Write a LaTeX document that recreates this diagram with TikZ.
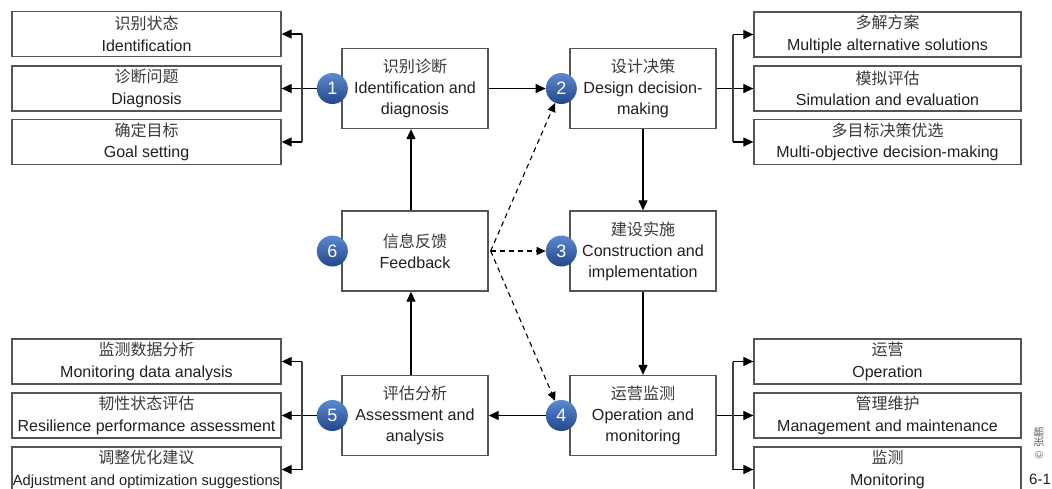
\documentclass[tikz,border=0pt]{standalone}
\usepackage{fontspec}
\setmainfont{Liberation Sans}
\newfontfamily\cjk{Noto Sans CJK SC}
\usetikzlibrary{arrows.meta}
\definecolor{txt}{HTML}{231F20}
\definecolor{cjktxt}{HTML}{3A3A3A}
\definecolor{bord}{HTML}{555555}
\definecolor{ctop}{HTML}{5B8AD0}
\definecolor{cbot}{HTML}{23468A}
\newcommand{\zh}[1]{{\cjk\color{cjktxt}#1}}
\begin{document}
\begin{tikzpicture}[x=1pt,y=-1pt,
  sidebox/.style={draw=bord,line width=1.3pt,minimum width=269pt,minimum height=45pt,inner sep=0pt,align=center,font=\fontsize{16}{21.5}\selectfont,text=txt},
  rsidebox/.style={sidebox,minimum width=267pt},
  mainbox/.style={draw=bord,line width=1.3pt,minimum width=146pt,minimum height=80pt,inner sep=0pt,align=center,font=\fontsize{16.1}{21}\selectfont,text=txt},
  num/.style={circle,minimum size=31pt,inner sep=0pt,top color=ctop,bottom color=cbot,draw=none,text=white,font=\fontsize{18}{18}\selectfont},
  arr/.style={-{Triangle[length=10pt,width=9pt]},line width=1.2pt,draw=black},
  brk/.style={line width=1.2pt,draw=black!75},
  darr/.style={-{Triangle[length=9pt,width=8pt]},line width=1.1pt,dash pattern=on 5pt off 4pt,draw=black}
]
\useasboundingbox (0,0) rectangle (1052,488);
\fill[white] (0,0) rectangle (1052,488);

% left side boxes
\node[sidebox] (A1) at (146.5,34) {\zh{识别状态}\\Identification};
\node[sidebox] (A2) at (146.5,88.5) {\zh{诊断问题}\\Diagnosis};
\node[sidebox] (A3) at (146.5,142) {\zh{确定目标}\\Goal setting};
\node[sidebox] (B1) at (146.5,361.5) {\zh{监测数据分析}\\Monitoring data analysis};
\node[sidebox] (B2) at (146.5,415.5) {\zh{韧性状态评估}\\Resilience performance assessment};
\node[sidebox] (B3) at (146.5,469.5) {\zh{调整优化建议}\\{\fontsize{14.7}{21.5}\selectfont Adjustment and optimization suggestions}};

% right side boxes
\node[rsidebox] (C1) at (887.5,34.5) {\zh{多解方案}\\Multiple alternative solutions};
\node[rsidebox] (C2) at (887.5,88.5) {\zh{模拟评估}\\Simulation and evaluation};
\node[rsidebox] (C3) at (887.5,142) {\zh{多目标决策优选}\\Multi-objective decision-making};
\node[rsidebox] (D1) at (887.5,361.5) {\zh{运营}\\Operation};
\node[rsidebox] (D2) at (887.5,415.5) {\zh{管理维护}\\Management and maintenance};
\node[rsidebox] (D3) at (887.5,469.5) {\zh{监测}\\Monitoring};

% main boxes
\node[mainbox] (b1) at (415,88.5) {\zh{识别诊断}\\Identification and\\diagnosis};
\node[mainbox] (b2) at (643,88.5) {\zh{设计决策}\\Design decision-\\making};
\node[mainbox] (b3) at (643,251) {\zh{建设实施}\\Construction and\\implementation};
\node[mainbox] (b4) at (643,415.5) {\zh{运营监测}\\Operation and\\monitoring};
\node[mainbox] (b5) at (415,415.5) {\zh{评估分析}\\Assessment and\\analysis};
\node[mainbox] (b6) at (415,251) {\zh{信息反馈}\\Feedback};

% numbered circles
\node[num] (c1) at ([xshift=-9pt]b1.west) {1};
\node[num] (c2) at ([xshift=-8pt]b2.west) {2};
\node[num] (c3) at ([xshift=-8pt]b3.west) {3};
\node[num] (c4) at ([xshift=-8pt]b4.west) {4};
\node[num] (c5) at ([xshift=-9pt]b5.west) {5};
\node[num] (c6) at ([xshift=-9pt]b6.west) {6};

% bracket positions
\coordinate (bl) at (302,0);
\coordinate (br) at (733,0);

% stage 1 -> left top
\draw[arr] (c1.west) -- (A2.east);
\draw[brk] (bl |- A1.east) -- (bl |- A3.east);
\draw[arr] (bl |- A1.east) -- (A1.east);
\draw[arr] (bl |- A3.east) -- (A3.east);

% stage 1 -> 2
\draw[arr] (b1.east) -- (c2.west);

% stage 2 -> right top
\draw[arr] (b2.east) -- (C2.west);
\draw[brk] (br |- C1.west) -- (br |- C3.west);
\draw[arr] (br |- C1.west) -- (C1.west);
\draw[arr] (br |- C3.west) -- (C3.west);

% stage 2 -> 3 -> 4
\draw[arr] (b2.south) -- (b3.north);
\draw[arr] (b3.south) -- (b4.north);

% stage 4 -> right bottom
\draw[arr] (b4.east) -- (D2.west);
\draw[brk] (br |- D1.west) -- (br |- D3.west);
\draw[arr] (br |- D1.west) -- (D1.west);
\draw[arr] (br |- D3.west) -- (D3.west);

% stage 4 -> 5
\draw[arr] (c4.west) -- (b5.east);

% stage 5 -> left bottom
\draw[arr] (c5.west) -- (B2.east);
\draw[brk] (bl |- B1.east) -- (bl |- B3.east);
\draw[arr] (bl |- B1.east) -- (B1.east);
\draw[arr] (bl |- B3.east) -- (B3.east);

% stage 5 -> 6 -> 1
\draw[arr] ([xshift=-4pt]b5.north) -- ([xshift=-4pt]b6.south);
\draw[arr] ([xshift=-4pt]b6.north) -- ([xshift=-4pt]b1.south);

% feedback dashed
\coordinate (fb) at ([xshift=2pt]b6.east);
\draw[darr] (fb) -- (c2);
\draw[darr] (fb) -- (c3);
\draw[darr] (fb) -- (c4);

% side marks
\node[rotate=90,inner sep=0pt,font=\cjk\fontsize{10.5}{10.5}\selectfont,text=black!60] (cp) at (1039,443) {© 张鹏};
\node[anchor=north west,inner sep=0pt,font=\fontsize{15}{15}\selectfont,text=txt] (fig) at (1029,474) {6-1};
\end{tikzpicture}
\end{document}
